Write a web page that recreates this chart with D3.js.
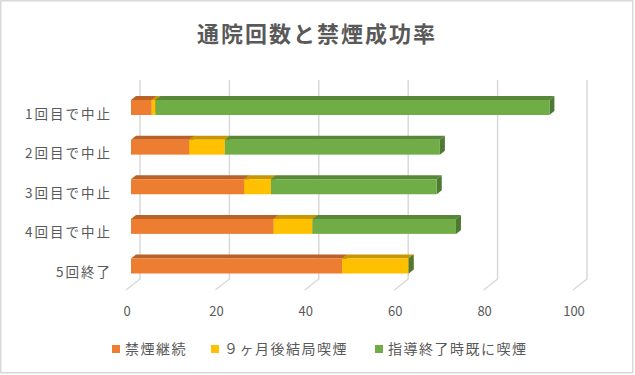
<!DOCTYPE html>
<meta charset="utf-8">
<script src="https://d3js.org/d3.v7.min.js"></script>
<style>
  body { margin: 0; background: #fff; }
  text { font-family: "Noto Sans CJK JP", "Noto Sans", sans-serif; fill: #595959; }
</style>
<div id="chart"></div>
<script>
// data
var categories = ["1回目で中止", "2回目で中止", "3回目で中止", "4回目で中止", "5回終了"];
var seriesNames = ["禁煙継続", "９ヶ月後結局喫煙", "指導終了時既に喫煙"];
var kinen = [4.6, 13.0, 25.3, 31.9, 47.2];
var kekkyoku = [0.9, 8.0, 6.0, 8.7, 14.9];
var sudeni = [88.1, 48.1, 37.1, 32.1, 0];
var ticks = [0, 20, 40, 60, 80, 100];
var colors = ["#ED7D31", "#FFC000", "#70AD47"];

var W = 635, H = 375;
var svg = d3.select("#chart").append("svg")
  .attr("width", W).attr("height", H);

// border
svg.append("rect").attr("x", 0.75).attr("y", 0.75)
  .attr("width", 632).attr("height", 372)
  .attr("fill", "#fff").attr("stroke", "#d9d9d9").attr("stroke-width", 1.5);

// title
svg.append("text").attr("x", 317).attr("y", 42)
  .attr("text-anchor", "middle")
  .style("font-size", "22px").style("font-weight", "bold").style("letter-spacing", "2px")
  .text("通院回数と禁煙成功率");

// scales (bar front plane)
var x = d3.scaleLinear().domain([0, 100]).range([131, 578]);
var y = d3.scalePoint().domain(categories).range([107.5, 266]);
var barH = 15, dx = 5, dy = -4;
var wallTop = 80, wallBottom = 279, floorFront = 290;

// gridlines: back wall + floor
svg.append("g").selectAll("polyline")
  .data(ticks).enter().append("polyline")
    .attr("points", function(d) {
      var xb = x(d) + 9, xf = x(d) - 5;
      return xb + "," + wallTop + " " + xb + "," + wallBottom + " " + xf + "," + floorFront;
    })
    .attr("fill", "none").attr("stroke", "#d9d9d9").attr("stroke-width", 1.5);

// tick labels
svg.append("g").selectAll("text")
  .data(ticks).enter().append("text")
    .attr("x", function(d) { return x(d) - 4; })
    .attr("y", 316)
    .attr("text-anchor", "middle")
    .style("font-size", "13px")
    .text(function(d) { return d; });

// category labels
svg.append("g").selectAll("text")
  .data(categories).enter().append("text")
    .attr("x", 112).attr("y", function(d) { return y(d) + 11; })
    .attr("text-anchor", "end")
    .style("font-size", "13.5px").style("letter-spacing", "2px")
    .text(function(d) { return d; });

// stacked segments (zero-length ones still get their end face)
var series = [kinen, kekkyoku, sudeni];
var segs = [];
categories.forEach(function(c, i) {
  var s = 0;
  series.forEach(function(vals, k) {
    var v = vals[i];
    segs.push({cat: c, k: k, x0: s, x1: s + v});
    s += v;
  });
});

var bars = svg.append("g").selectAll("g")
  .data(segs).enter().append("g");

// top face
bars.append("polygon")
  .attr("points", function(d) {
    var a = x(d.x0), b = x(d.x1), t = y(d.cat) - barH / 2;
    return [[a, t], [a + dx, t + dy], [b + dx, t + dy], [b, t]].join(" ");
  })
  .attr("fill", function(d) { return d3.color(colors[d.k]).darker(0.7); });

// right side face
bars.append("polygon")
  .attr("points", function(d) {
    var b = x(d.x1), t = y(d.cat) - barH / 2;
    return [[b, t], [b + dx, t + dy], [b + dx, t + dy + barH], [b, t + barH]].join(" ");
  })
  .attr("fill", function(d) { return d3.color(colors[d.k]).darker(1.0); });

// front face
bars.append("rect")
  .attr("x", function(d) { return x(d.x0); })
  .attr("y", function(d) { return y(d.cat) - barH / 2; })
  .attr("width", function(d) { return x(d.x1) - x(d.x0); })
  .attr("height", barH)
  .attr("fill", function(d) { return colors[d.k]; });

// legend
var legX = [112, 211, 375];
var leg = svg.append("g").selectAll("g")
  .data(seriesNames).enter().append("g");
leg.append("rect")
  .attr("x", function(d, i) { return legX[i]; })
  .attr("y", 345).attr("width", 8).attr("height", 8)
  .attr("fill", function(d, i) { return colors[i]; });
leg.append("text")
  .attr("x", function(d, i) { return legX[i] + 13; })
  .attr("y", 354)
  .style("font-size", "14px").style("letter-spacing", "1.5px")
  .text(function(d) { return d; });
</script>
